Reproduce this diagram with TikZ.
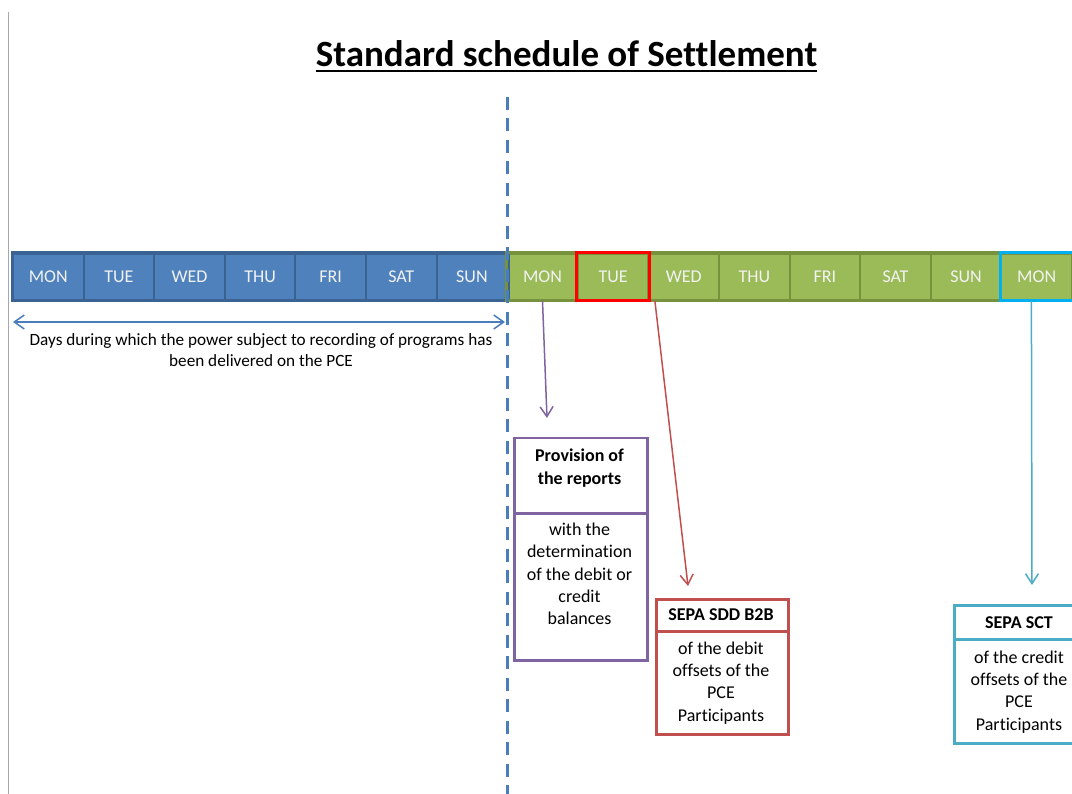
\documentclass[tikz,border=0pt]{standalone}
\usepackage{fontspec}
\setmainfont{Carlito}[Ligatures=CommonOff]
\usetikzlibrary{arrows.meta,calc}
\definecolor{bfill}{HTML}{4F81BD}
\definecolor{bline}{HTML}{3A6394}
\definecolor{gfill}{HTML}{9BBB59}
\definecolor{gline}{HTML}{76923C}
\definecolor{hlred}{HTML}{FF0000}
\definecolor{hlcyan}{HTML}{00B0F0}
\definecolor{purp}{HTML}{8064A2}
\definecolor{rbox}{HTML}{C0504D}
\definecolor{cbox}{HTML}{4BACC6}
\definecolor{greyline}{HTML}{A6A6B4}
\definecolor{daytext}{HTML}{F2F2F2}
\definecolor{dashblue}{HTML}{4A7EBB}
\begin{document}
\begin{tikzpicture}[x=1pt,y=-1pt,
  daycell/.style={rectangle, minimum width=70.6pt, minimum height=46pt, inner sep=0pt,
    anchor=north west, line width=2pt, text=daytext, font=\fontsize{18}{20}\selectfont},
  bcell/.style={daycell, fill=bfill, draw=bline},
  gcell/.style={daycell, fill=gfill, draw=gline},
  boxpart/.style={rectangle, inner sep=0pt, anchor=north west, line width=2.5pt, fill=white},
  hdrtext/.style={align=center, inner sep=0pt, font=\bfseries\fontsize{18}{23}\selectfont},
  bodytext/.style={align=center, inner sep=0pt, font=\fontsize{18}{22.3}\selectfont},
  link/.style={line width=1.5pt, -{Straight Barb[length=10pt,width=13pt]}},
  ]
\useasboundingbox (0,0) rectangle (1072,794);
\clip (0,0) rectangle (1072,794);

% left grey rule
\coordinate (gtop) at (8,12);
\coordinate (gbot) at (8,794);
\draw[greyline, line width=1pt] (gtop) -- (gbot);

% title
\node[font=\bfseries\fontsize{37}{42}\selectfont, anchor=base, inner sep=0pt] (title) at (566.5,67) {Standard schedule of Settlement};
\draw[line width=2pt] ([yshift=-4.5pt]title.base west) -- ([yshift=-4.5pt]title.base east);

% day bar
\foreach \d [count=\i from 0] in {MON,TUE,WED,THU,FRI,SAT,SUN} {
  \node[bcell] (b\i) at ({12+70.6*\i},253) {\d};
}
\foreach \d [count=\i from 0] in {MON,TUE,WED,THU,FRI,SAT,SUN,MON} {
  \node[gcell] (g\i) at ({506.2+70.6*\i},253) {\d};
}
\draw[bline, line width=3pt] (b0.north west) rectangle (b6.south east);
\draw[gline, line width=3pt] (g0.north west) rectangle (g7.south east);
\draw[hlred, line width=3pt] (g1.north west) rectangle (g1.south east);
\draw[hlcyan, line width=3pt] (g7.north west) rectangle (g7.south east);

% dashed separator
\coordinate (dtop) at (507,97);
\coordinate (dbot) at (507,794);
\draw[dashblue, line width=3pt, dash pattern=on 13pt off 8.5pt] (dtop) -- (dbot);

% span arrow
\coordinate (al) at (13,322);
\coordinate (ar) at (505,322);
\draw[dashblue, line width=1.5pt, {Straight Barb[length=10pt,width=14pt]}-{Straight Barb[length=10pt,width=14pt]}] (al) -- (ar);
\node[align=center, inner sep=0pt, font=\fontsize{17.2}{21}\selectfont] (days) at (261,350.5)
  {Days during which the power subject to recording of programs has\\been delivered on the PCE};

% Provision box
\node[boxpart, draw=purp, minimum width=133pt, minimum height=75pt] (provh) at (513,437) {};
\node[boxpart, draw=purp, minimum width=133pt, minimum height=147pt] (provb) at (513,512) {};
\node[hdrtext] (provht) at (579.5,468.5) {Provision of\\the reports};
\node[bodytext] (provbt) at (579.5,574) {with the\\determination\\of the debit or\\credit\\balances};

% SEPA SDD B2B box
\node[boxpart, draw=rbox, minimum width=132pt, minimum height=32pt] (sddh) at (655,598) {};
\node[boxpart, draw=rbox, minimum width=132pt, minimum height=103pt] (sddb) at (655,630) {};
\node[hdrtext] (sddht) at (721,615) {SEPA SDD B2B};
\node[bodytext] (sddbt) at (721,683) {of the debit\\offsets of the\\PCE\\Participants};

% SEPA SCT box
\node[boxpart, draw=cbox, minimum width=132pt, minimum height=34pt] (scth) at (953,604) {};
\node[boxpart, draw=cbox, minimum width=132pt, minimum height=104pt] (sctb) at (953,638) {};
\node[hdrtext] (sctht) at (1019,623) {SEPA SCT};
\node[bodytext] (sctbt) at (1019,692) {of the credit\\offsets of the\\PCE\\Participants};

% connectors
\draw[link, purp] (g0.south) -- ($(provh.north west)+(34,-19)$);
\draw[link, rbox] ($(g2.south west)+(7.5,0)$) -- ($(sddh.north west)+(33,-12)$);
\draw[link, cbox] ($(g7.south west)+(31,0)$) -- ($(scth.north west)+(79,-19)$);
\end{tikzpicture}
\end{document}
